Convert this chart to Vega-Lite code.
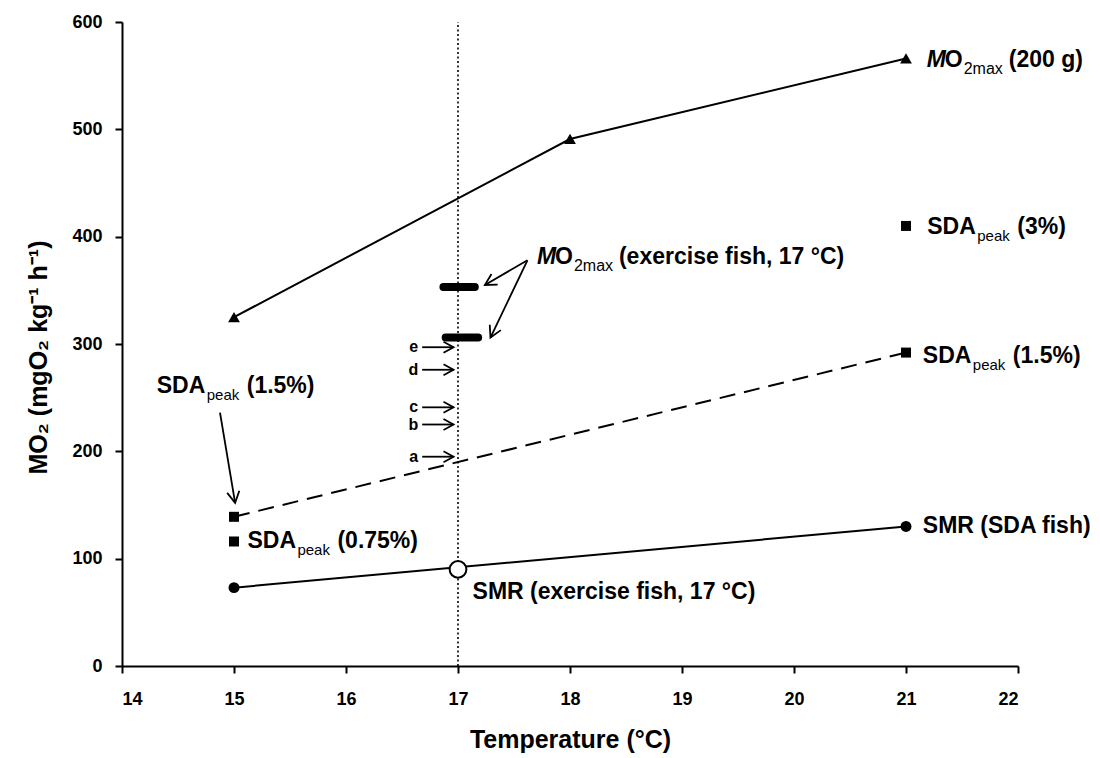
{
  "$schema": "https://vega.github.io/schema/vega-lite/v6.json",
  "width": 896,
  "height": 644,
  "autosize": "none",
  "padding": {"left": 122, "top": 22, "right": 82, "bottom": 92},
  "background": "white",
  "config": {"view": {"stroke": null}, "font": "Liberation Sans"},
  "datasets": {
    "curves": [
      {"T": 15, "v": 325, "s": "max"},
      {"T": 18, "v": 491, "s": "max"},
      {"T": 21, "v": 566, "s": "max"},
      {"T": 15, "v": 139, "s": "sda15"},
      {"T": 21, "v": 292, "s": "sda15"},
      {"T": 15, "v": 73, "s": "smr"},
      {"T": 21, "v": 130, "s": "smr"},
      {"T": 15, "v": 116, "s": "sda075"},
      {"T": 21, "v": 410, "s": "sda3"},
      {"T": 17, "v": 90, "s": "smrEx"}
    ],
    "vline": [{"T": 17, "lo": 0, "hi": 600}],
    "bars": [
      {"x": 16.87, "x2": 17.15, "v": 353},
      {"x": 16.89, "x2": 17.18, "v": 306}
    ],
    "arrows": [
      {"id": "a", "kind": "h", "x": 16.68, "y": 195, "x2": 16.96, "y2": 195},
      {"id": "b", "kind": "h", "x": 16.68, "y": 225, "x2": 16.96, "y2": 225},
      {"id": "c", "kind": "h", "x": 16.68, "y": 241, "x2": 16.96, "y2": 241},
      {"id": "d", "kind": "h", "x": 16.68, "y": 276, "x2": 16.96, "y2": 276},
      {"id": "e", "kind": "h", "x": 16.68, "y": 297, "x2": 16.96, "y2": 297},
      {"id": "", "kind": "ex1", "x": 17.62, "y": 378, "x2": 17.24, "y2": 355},
      {"id": "", "kind": "ex2", "x": 17.62, "y": 378, "x2": 17.29, "y2": 306},
      {"id": "", "kind": "sda", "x": 14.875, "y": 236, "x2": 15.01, "y2": 152}
    ],
    "labels": [
      {"kind": "MO", "x": 21.185, "y": 565, "pre": "M", "mid": "O", "sub": "2max", "post": "(200 g)"},
      {"kind": "MO", "x": 17.705, "y": 381, "pre": "M", "mid": "O", "sub": "2max", "post": "(exercise fish, 17 °C)"},
      {"kind": "SDA", "x": 21.19, "y": 409, "pre": "SDA", "sub": "peak", "post": "(3%)"},
      {"kind": "SDA", "x": 21.15, "y": 289, "pre": "SDA", "sub": "peak", "post": "(1.5%)"},
      {"kind": "SDA", "x": 15.12, "y": 116.5, "pre": "SDA", "sub": "peak", "post": "(0.75%)"},
      {"kind": "SDA", "x": 14.31, "y": 261, "pre": "SDA", "sub": "peak", "post": "(1.5%)"},
      {"kind": "plain", "x": 21.15, "y": 130, "pre": "SMR (SDA fish)"},
      {"kind": "plain", "x": 17.13, "y": 69, "pre": "SMR (exercise fish, 17 °C)"}
    ]
  },
  "layer": [
    {
      "data": {"name": "vline"},
      "mark": {"type": "rule", "color": "black", "strokeWidth": 1.6, "strokeDash": [2, 2.5]},
      "encoding": {
        "x": {
          "field": "T", "type": "quantitative",
          "scale": {"domain": [14, 22], "nice": false, "zero": false},
          "axis": {
            "values": [14, 15, 16, 17, 18, 19, 20, 21, 22],
            "format": "d",
            "grid": false,
            "domainColor": "black", "domainWidth": 2,
            "tickColor": "black", "tickWidth": 2, "tickSize": 7,
            "labelFont": "Liberation Sans", "labelFontWeight": "bold", "labelFontSize": 18, "labelColor": "black",
            "labelPadding": 17,
            "title": "Temperature (°C)",
            "titleFont": "Liberation Sans", "titleFontWeight": "bold", "titleFontSize": 25, "titleColor": "black",
            "titleBaseline": "middle", "titleY": 73
          }
        },
        "y": {
          "field": "lo", "type": "quantitative",
          "scale": {"domain": [0, 600], "nice": false},
          "axis": {
            "values": [0, 100, 200, 300, 400, 500, 600],
            "grid": false,
            "domainColor": "black", "domainWidth": 2,
            "tickColor": "black", "tickWidth": 2, "tickSize": 7,
            "labelFont": "Liberation Sans", "labelFontWeight": "bold", "labelFontSize": 18, "labelColor": "black",
            "labelPadding": 13,
            "title": "MO₂ (mgO₂ kg⁻¹ h⁻¹)",
            "titleFont": "Liberation Sans", "titleFontWeight": "bold", "titleFontSize": 25, "titleColor": "black",
            "titleBaseline": "middle", "titleX": -84, "titleY": 335
          }
        },
        "y2": {"field": "hi"}
      }
    },
    {
      "data": {"name": "curves"},
      "transform": [{"filter": "datum.s === 'max' || datum.s === 'smr'"}],
      "mark": {"type": "line", "color": "black", "strokeWidth": 2},
      "encoding": {
        "x": {"field": "T", "type": "quantitative"},
        "y": {"field": "v", "type": "quantitative"},
        "detail": {"field": "s"}
      }
    },
    {
      "data": {"name": "curves"},
      "transform": [{"filter": "datum.s === 'sda15'"}],
      "mark": {"type": "line", "color": "black", "strokeWidth": 2, "strokeDash": [16, 9]},
      "encoding": {
        "x": {"field": "T", "type": "quantitative"},
        "y": {"field": "v", "type": "quantitative"}
      }
    },
    {
      "data": {"name": "curves"},
      "transform": [{"filter": "datum.s === 'max'"}],
      "mark": {"type": "point", "shape": "triangle-up", "filled": true, "color": "black", "opacity": 1, "size": 140},
      "encoding": {
        "x": {"field": "T", "type": "quantitative"},
        "y": {"field": "v", "type": "quantitative"}
      }
    },
    {
      "data": {"name": "curves"},
      "transform": [{"filter": "datum.s === 'sda15' || datum.s === 'sda075' || datum.s === 'sda3'"}],
      "mark": {"type": "point", "shape": "square", "filled": true, "color": "black", "opacity": 1, "size": 100},
      "encoding": {
        "x": {"field": "T", "type": "quantitative"},
        "y": {"field": "v", "type": "quantitative"}
      }
    },
    {
      "data": {"name": "curves"},
      "transform": [{"filter": "datum.s === 'smr'"}],
      "mark": {"type": "point", "shape": "circle", "filled": true, "color": "black", "opacity": 1, "size": 120},
      "encoding": {
        "x": {"field": "T", "type": "quantitative"},
        "y": {"field": "v", "type": "quantitative"}
      }
    },
    {
      "data": {"name": "curves"},
      "transform": [{"filter": "datum.s === 'smrEx'"}],
      "mark": {"type": "point", "shape": "circle", "filled": true, "fill": "white", "stroke": "black", "strokeWidth": 2, "opacity": 1, "size": 280},
      "encoding": {
        "x": {"field": "T", "type": "quantitative"},
        "y": {"field": "v", "type": "quantitative"}
      }
    },
    {
      "data": {"name": "bars"},
      "mark": {"type": "rule", "color": "black", "strokeWidth": 8, "strokeCap": "round"},
      "encoding": {
        "x": {"field": "x", "type": "quantitative"},
        "x2": {"field": "x2"},
        "y": {"field": "v", "type": "quantitative"}
      }
    },
    {
      "data": {"name": "arrows"},
      "mark": {"type": "rule", "color": "black", "strokeWidth": 1.8},
      "encoding": {
        "x": {"field": "x", "type": "quantitative"},
        "x2": {"field": "x2"},
        "y": {"field": "y", "type": "quantitative"},
        "y2": {"field": "y2"}
      }
    },
    {
      "data": {"name": "arrows"},
      "transform": [{"filter": "datum.kind === 'h'"}],
      "mark": {"type": "point", "shape": "M-1,-0.55L0,0L-1,0.55", "filled": false, "stroke": "black", "strokeWidth": 1.8, "opacity": 1, "size": 400},
      "encoding": {
        "x": {"field": "x2", "type": "quantitative"},
        "y": {"field": "y2", "type": "quantitative"}
      }
    },
    {
      "data": {"name": "arrows"},
      "transform": [{"filter": "datum.kind === 'ex1'"}],
      "mark": {"type": "point", "shape": "M-1,-0.55L0,0L-1,0.55", "filled": false, "stroke": "black", "strokeWidth": 1.8, "opacity": 1, "size": 500, "angle": 150},
      "encoding": {
        "x": {"field": "x2", "type": "quantitative"},
        "y": {"field": "y2", "type": "quantitative"}
      }
    },
    {
      "data": {"name": "arrows"},
      "transform": [{"filter": "datum.kind === 'ex2'"}],
      "mark": {"type": "point", "shape": "M-1,-0.55L0,0L-1,0.55", "filled": false, "stroke": "black", "strokeWidth": 1.8, "opacity": 1, "size": 500, "angle": 115.6},
      "encoding": {
        "x": {"field": "x2", "type": "quantitative"},
        "y": {"field": "y2", "type": "quantitative"}
      }
    },
    {
      "data": {"name": "arrows"},
      "transform": [{"filter": "datum.kind === 'sda'"}],
      "mark": {"type": "point", "shape": "M-1,-0.55L0,0L-1,0.55", "filled": false, "stroke": "black", "strokeWidth": 1.8, "opacity": 1, "size": 500, "angle": 80.5},
      "encoding": {
        "x": {"field": "x2", "type": "quantitative"},
        "y": {"field": "y2", "type": "quantitative"}
      }
    },
    {
      "data": {"name": "arrows"},
      "transform": [{"filter": "datum.kind === 'h'"}],
      "mark": {"type": "text", "align": "right", "baseline": "middle", "dx": -4, "font": "Liberation Sans", "fontWeight": "bold", "fontSize": 16, "color": "black"},
      "encoding": {
        "x": {"field": "x", "type": "quantitative"},
        "y": {"field": "y", "type": "quantitative"},
        "text": {"field": "id"}
      }
    },
    {
      "data": {"name": "labels"},
      "transform": [{"filter": "datum.kind === 'plain' || datum.kind === 'SDA'"}],
      "mark": {"type": "text", "align": "left", "baseline": "middle", "font": "Liberation Sans", "fontWeight": "bold", "fontSize": 23, "color": "black"},
      "encoding": {
        "x": {"field": "x", "type": "quantitative"},
        "y": {"field": "y", "type": "quantitative"},
        "text": {"field": "pre"}
      }
    },
    {
      "data": {"name": "labels"},
      "transform": [{"filter": "datum.kind === 'SDA'"}],
      "mark": {"type": "text", "align": "left", "baseline": "middle", "dx": 50, "dy": 9, "font": "Liberation Sans", "fontSize": 15, "color": "black"},
      "encoding": {
        "x": {"field": "x", "type": "quantitative"},
        "y": {"field": "y", "type": "quantitative"},
        "text": {"field": "sub"}
      }
    },
    {
      "data": {"name": "labels"},
      "transform": [{"filter": "datum.kind === 'SDA'"}],
      "mark": {"type": "text", "align": "left", "baseline": "middle", "dx": 90, "font": "Liberation Sans", "fontWeight": "bold", "fontSize": 23, "color": "black"},
      "encoding": {
        "x": {"field": "x", "type": "quantitative"},
        "y": {"field": "y", "type": "quantitative"},
        "text": {"field": "post"}
      }
    },
    {
      "data": {"name": "labels"},
      "transform": [{"filter": "datum.kind === 'MO'"}],
      "mark": {"type": "text", "align": "left", "baseline": "middle", "font": "Liberation Sans", "fontWeight": "bold", "fontStyle": "italic", "fontSize": 23, "color": "black"},
      "encoding": {
        "x": {"field": "x", "type": "quantitative"},
        "y": {"field": "y", "type": "quantitative"},
        "text": {"field": "pre"}
      }
    },
    {
      "data": {"name": "labels"},
      "transform": [{"filter": "datum.kind === 'MO'"}],
      "mark": {"type": "text", "align": "left", "baseline": "middle", "dx": 18, "font": "Liberation Sans", "fontWeight": "bold", "fontSize": 23, "color": "black"},
      "encoding": {
        "x": {"field": "x", "type": "quantitative"},
        "y": {"field": "y", "type": "quantitative"},
        "text": {"field": "mid"}
      }
    },
    {
      "data": {"name": "labels"},
      "transform": [{"filter": "datum.kind === 'MO'"}],
      "mark": {"type": "text", "align": "left", "baseline": "middle", "dx": 37, "dy": 9, "font": "Liberation Sans", "fontSize": 16, "color": "black"},
      "encoding": {
        "x": {"field": "x", "type": "quantitative"},
        "y": {"field": "y", "type": "quantitative"},
        "text": {"field": "sub"}
      }
    },
    {
      "data": {"name": "labels"},
      "transform": [{"filter": "datum.kind === 'MO'"}],
      "mark": {"type": "text", "align": "left", "baseline": "middle", "dx": 82, "font": "Liberation Sans", "fontWeight": "bold", "fontSize": 23, "color": "black"},
      "encoding": {
        "x": {"field": "x", "type": "quantitative"},
        "y": {"field": "y", "type": "quantitative"},
        "text": {"field": "post"}
      }
    }
  ]
}
